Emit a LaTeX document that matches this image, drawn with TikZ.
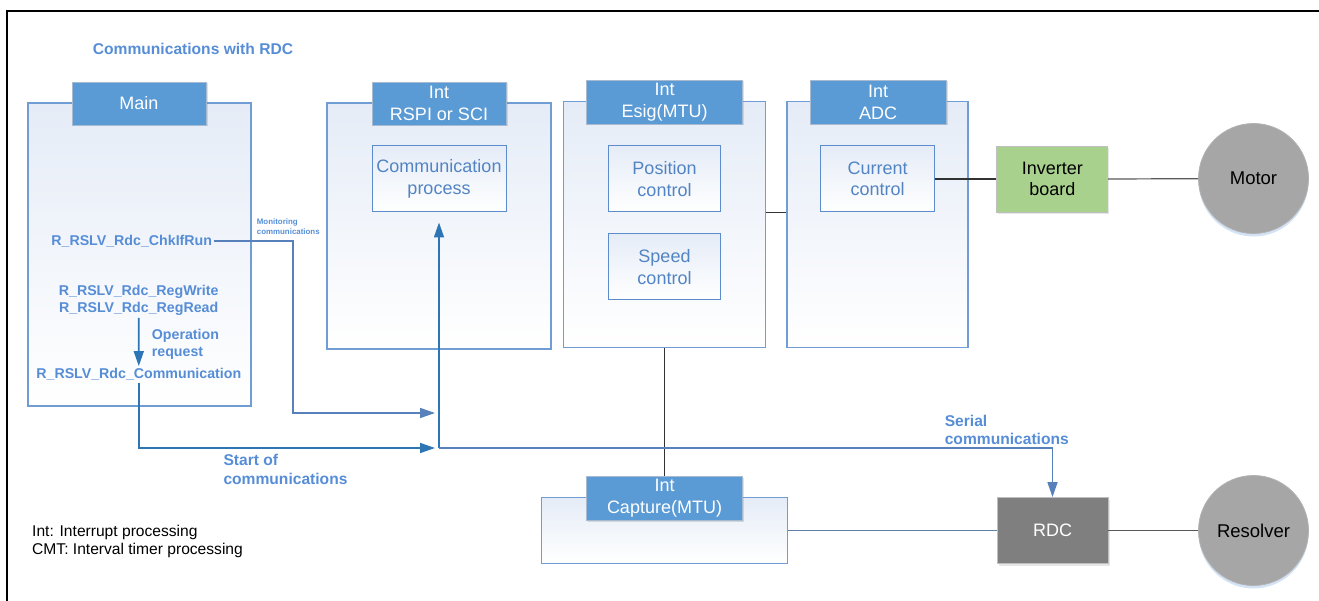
\documentclass[tikz,border=0pt]{standalone}
\usepackage{fontspec}
\setmainfont{Liberation Sans}
\usetikzlibrary{arrows.meta,shadows,positioning}
\definecolor{hdblue}{RGB}{91,155,213}
\definecolor{hdedge}{RGB}{168,186,208}
\definecolor{boxedge}{RGB}{112,157,212}
\definecolor{boxtop}{RGB}{229,236,247}
\definecolor{inedge}{RGB}{92,140,204}
\definecolor{intext}{RGB}{82,132,196}
\definecolor{lbl}{RGB}{86,141,214}
\definecolor{cflowa}{RGB}{88,128,186}
\definecolor{cflowb}{RGB}{46,117,182}
\definecolor{invgreen}{RGB}{169,209,142}
\definecolor{motgray}{RGB}{166,166,166}
\definecolor{rdcgray}{RGB}{127,127,127}
\definecolor{wire}{RGB}{50,50,50}
\definecolor{capwire}{RGB}{96,126,166}
\definecolor{glow}{RGB}{200,220,242}
\tikzset{
  >={Triangle[length=15pt,width=10pt]},
  procfrm/.style={draw=boxedge,line width=1.1pt,top color=boxtop,bottom color=white,
    inner sep=0pt},
  prochd/.style={draw=hdedge,line width=0.8pt,fill=hdblue,text=white,align=center,
    font=\fontsize{18}{22}\selectfont,inner sep=0pt,minimum height=43pt,
    drop shadow={shadow xshift=1.5pt,shadow yshift=-1.5pt,opacity=0.25}},
  inbox/.style={draw=inedge,line width=1pt,top color=boxtop,bottom color=white,
    text=intext,align=center,font=\fontsize{18}{21.6}\selectfont,
    minimum height=66pt,inner sep=0pt},
  hwbox/.style={draw=black!25,line width=0.8pt,align=center,
    font=\fontsize{18}{21.6}\selectfont,minimum height=66pt,minimum width=111pt,
    inner sep=0pt,drop shadow={shadow xshift=1.5pt,shadow yshift=-2pt,opacity=0.2}},
  hwdisc/.style={circle,draw=black!30,line width=0.8pt,fill=motgray,
    font=\fontsize{18.5}{22}\selectfont,minimum size=110pt,inner sep=0pt,
    drop shadow={shadow xshift=0pt,shadow yshift=-3pt,fill=glow,opacity=0.8}},
  fnlbl/.style={text=lbl,font=\bfseries\fontsize{14.2}{16.7}\selectfont,
    inner sep=2pt,align=center},
  notelbl/.style={text=lbl,font=\bfseries\fontsize{15.6}{18.5}\selectfont,
    inner sep=0pt,align=left},
  flowa/.style={->,draw=cflowa,line width=1.6pt},
  flowb/.style={->,draw=cflowb,line width=1.6pt},
  wireln/.style={draw=wire,line width=1.2pt},
}
\begin{document}
\begin{tikzpicture}[x=1pt,y=-1pt]
  \useasboundingbox (0,0) rectangle (1319,601);
  \draw[line width=2.5pt] (7,615) -- (7,11) -- (1330,11);
  \node[notelbl,anchor=west] (title) at (92.7,48.7) {Communications with RDC};
  % task frames
  \node[procfrm,minimum width=223pt,minimum height=303pt] (mainfrm) at (139.5,254.5) {};
  \node[procfrm,minimum width=224pt,minimum height=246pt] (rspifrm) at (439,226) {};
  \node[procfrm,minimum width=201.6pt,minimum height=246pt] (esigfrm) at (664.5,224.7) {};
  \node[procfrm,minimum width=181pt,minimum height=246pt] (adcfrm) at (877.5,224.7) {};
  \node[procfrm,minimum width=246pt,minimum height=66.4pt] (capfrm) at (664.5,530.5) {};
  \node[prochd,minimum width=134pt] (mainhd) at (139,103.5) {Main};
  \node[prochd,minimum width=134pt] (rspihd) at (439,103.5) {Int\\RSPI or SCI};
  \node[prochd,minimum width=156pt,minimum height=44pt] (esighd) at (664.5,102) {Int\\Esig(MTU)};
  \node[prochd,minimum width=136pt,minimum height=44pt] (adchd) at (878,102) {Int\\ADC};
  \node[prochd,minimum width=156pt,minimum height=44pt] (caphd) at (664.5,498.3) {Int\\Capture(MTU)};
  % processes
  \node[inbox,minimum width=134pt] (comproc) at (439,179) {Communication\\process};
  \node[inbox,minimum width=112pt] (posctl) at (664.5,179) {Position\\control};
  \node[inbox,minimum width=112pt] (spdctl) at (664.5,267) {Speed\\control};
  \node[inbox,minimum width=114pt] (curctl) at (877.7,179) {Current\\control};
  % hardware
  \node[hwbox,fill=invgreen] (inv) at (1052.3,179) {Inverter\\board};
  \node[hwbox,fill=rdcgray,text=white] (rdc) at (1052.5,530.5) {RDC};
  \node[hwdisc] (motor) at (1253.5,178.5) {Motor};
  \node[hwdisc] (resolver) at (1253.5,530.5) {Resolver};
  % API calls in main
  \node[fnlbl] (chk) at (131.7,241) {R\_RSLV\_Rdc\_ChkIfRun};
  \node[fnlbl] (reg) at (138.7,300.7) {R\_RSLV\_Rdc\_RegWrite\\R\_RSLV\_Rdc\_RegRead};
  \node[fnlbl] (comm) at (138.8,374.3) {R\_RSLV\_Rdc\_Communication};
  \node[fnlbl,anchor=west,align=left,inner sep=0pt] (opreq) at (151.7,344) {Operation\\request};
  \node[text=lbl,font=\bfseries\fontsize{7.9}{10}\selectfont,anchor=west,align=left,
    inner sep=0pt] (monlbl) at (256.7,227) {Monitoring\\communications};
  \node[notelbl,anchor=west] (startlbl) at (223.3,469.5) {Start of\\communications};
  \node[notelbl,anchor=west] (seriallbl) at (944.6,430) {Serial\\communications};
  \node[font=\fontsize{15.6}{18.4}\selectfont,anchor=west,align=left,inner sep=0pt]
    (legend) at (32,541.5) {Int: Interrupt processing\\CMT: Interval timer processing};
  % wiring
  \draw[wireln] (esigfrm.east |- posctl.south) -- (adcfrm.west |- posctl.south);
  \draw[wireln] (curctl.east) -- (inv.west);
  \draw[wireln,draw=black!65] (inv.east) -- (motor);
  \draw[wireln] (esigfrm.south) -- (caphd.north);
  \draw[wireln,draw=capwire] (capfrm.east) -- (rdc.west);
  \draw[wireln,draw=black!65] (rdc.east) -- (resolver);
  % communication flow
  \coordinate (bus) at (439,448);
  \coordinate (monturn) at (293,413);
  \coordinate (montip) at (435,413);
  \coordinate (comtip) at (435,448);
  \draw[flowb] (reg.south) -- (comm.north);
  \draw[flowa] (chk.east) -| (monturn) -- (montip);
  \draw[flowb] (comm.south) |- (comtip);
  \draw[flowb] (bus) -- ([yshift=-10pt]comproc.south);
  \draw[flowa] (bus) -| (rdc.north);
\end{tikzpicture}
\end{document}
